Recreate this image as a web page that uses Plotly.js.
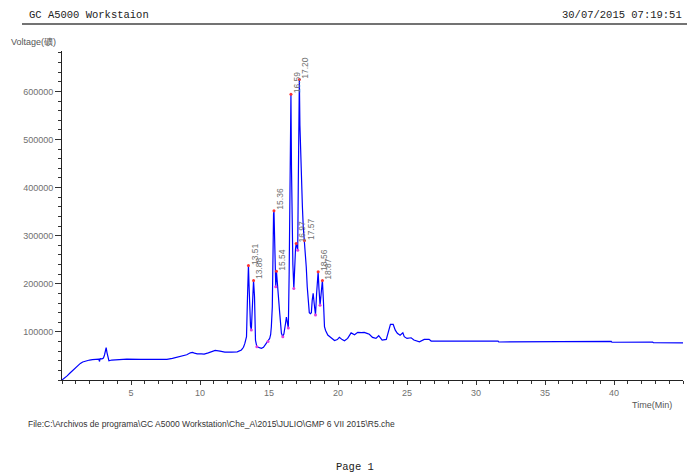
<!DOCTYPE html>
<html>
<head>
<meta charset="utf-8">
<script src="https://cdn.plot.ly/plotly-3.0.1.min.js"></script>
<style>
  html, body { margin: 0; padding: 0; background: #ffffff; }
  #chart { width: 687px; height: 474px; }
</style>
</head>
<body>
<div id="chart"></div>
<script>
// Chromatogram trace: retention time (min) and detector signal
const timeMin = [
  0.00, 0.15, 0.37, 0.60, 0.85, 1.10, 1.33, 1.50, 1.70, 2.00, 2.20, 2.50, 2.66, 2.72, 2.76, 2.90,
  3.00, 3.08, 3.15, 3.20, 3.26, 3.32, 3.40, 3.60, 4.00, 4.70, 5.70, 7.60, 8.00, 8.30, 8.70, 9.04,
  9.30, 9.45, 9.60, 9.80, 10.10, 10.30, 10.60, 10.90, 11.10, 11.45, 11.80, 12.30, 12.70, 13.00, 13.15, 13.25,
  13.37, 13.44, 13.49, 13.51, 13.55, 13.61, 13.66, 13.72, 13.80, 13.88, 13.95, 14.02, 14.12, 14.30, 14.45, 14.60,
  14.80, 14.93, 15.05, 15.12, 15.17, 15.24, 15.29, 15.33, 15.36, 15.41, 15.46, 15.49, 15.54, 15.60, 15.66, 15.72,
  15.78, 15.90, 16.00, 16.08, 16.14, 16.20, 16.26, 16.32, 16.40, 16.46, 16.51, 16.55, 16.59, 16.63, 16.68, 16.73,
  16.80, 16.86, 16.92, 16.97, 17.03, 17.08, 17.12, 17.14, 17.20, 17.24, 17.27, 17.31, 17.35, 17.42, 17.48, 17.57,
  17.63, 17.70, 17.77, 17.85, 17.92, 18.00, 18.07, 18.13, 18.20, 18.27, 18.37, 18.45, 18.56, 18.62, 18.70, 18.78,
  18.87, 18.95, 19.02, 19.10, 19.26, 19.50, 19.75, 19.95, 20.10, 20.30, 20.47, 20.70, 20.95, 21.20, 21.43, 21.70,
  21.90, 22.10, 22.27, 22.50, 22.75, 22.95, 23.20, 23.50, 23.67, 23.80, 24.00, 24.15, 24.30, 24.50, 24.70, 24.80,
  25.00, 25.30, 25.50, 25.75, 25.90, 26.25, 26.60, 26.75, 27.40, 27.50, 27.60, 29.20, 29.35, 29.70, 29.80, 31.60,
  31.65, 32.30, 32.35, 39.80, 39.85, 40.30, 40.35, 40.90, 40.95, 42.80, 42.85, 45.00
];
const signal = [
  0, 3000, 8500, 15000, 22000, 29000, 34500, 37500, 39500, 41500, 42200, 43000, 43500, 38500, 44500, 44000,
  45500, 52000, 66000, 67500, 57000, 45000, 40000, 41500, 42500, 43500, 43000, 43000, 45000, 47000, 50000, 52500,
  56500, 57500, 56000, 54500, 54500, 54000, 56500, 60500, 61600, 60200, 58100, 58000, 58500, 62500, 68000, 76000,
  90000, 170000, 233000, 238000, 200000, 138000, 112000, 104000, 173000, 207000, 173000, 83000, 69000, 67000, 65700, 68000,
  76000, 80000, 86500, 95000, 110600, 152000, 311000, 345000, 352000, 300000, 242000, 194000, 226000, 200000, 186700, 160000,
  138000, 97000, 90000, 96000, 103700, 118000, 131000, 118000, 108000, 220000, 380000, 450000, 594000, 440000, 330000, 240000,
  190000, 255000, 272000, 284000, 276000, 270000, 400000, 505000, 625000, 530000, 490000, 440000, 387000, 360000, 320000, 290000,
  270000, 235000, 194000, 152000, 140000, 138000, 140000, 165000, 180000, 160000, 135000, 180000, 225000, 190000, 155600, 180000,
  207000, 160000, 111000, 103000, 93400, 88000, 82000, 84000, 88600, 84000, 81500, 86500, 98000, 94000, 99000, 98500,
  99000, 97000, 95000, 88600, 86500, 92000, 83000, 84400, 103700, 115500, 115500, 103700, 97000, 93000, 98000, 90000,
  86500, 87800, 83000, 81000, 79500, 84400, 84400, 81000, 81000, 81800, 81000, 81000, 82400, 82400, 81000, 81000,
  79000, 79000, 80500, 80500, 78500, 78500, 80000, 80000, 79000, 79000, 77500, 77000
];

// Integrated peaks (apex retention times) and baseline-valley points
const peakTimes = [13.51, 13.88, 15.36, 15.54, 16.59, 16.97, 17.20, 17.57, 18.56, 18.87];
const valleyTimes = [13.72, 14.12, 14.93, 15.49, 16.00, 16.40, 16.80, 17.08, 18.37, 18.70];

// Axis ticks
const xTickVals = [5, 10, 15, 20, 25, 30, 35, 40];
const yTickVals = [100000, 200000, 300000, 400000, 500000, 600000];

// Page texts
const headerLeft = 'GC A5000 Workstaion';
const headerRight = '30/07/2015 07:19:51';
const yAxisLabel = 'Voltage(礦)';
const xAxisLabel = 'Time(Min)';
const fileLabel = 'File:C:\\Archivos de programa\\GC A5000 Workstation\\Che_A\\2015\\JULIO\\GMP 6 VII 2015\\R5.che';
const pageLabel = 'Page 1';

// look up the signal at a given retention time
function signalAt(t) {
  const i = timeMin.findIndex(v => Math.abs(v - t) < 1e-9);
  return signal[i];
}

// Plot-area geometry (pixels) used to place page texts in paper coordinates
const W = 687, H = 474;
const M = { l: 62, r: 4, t: 51, b: 94 };
const plotW = W - M.l - M.r, plotH = H - M.t - M.b;
const px = x => (x - M.l) / plotW;
const py = y => (H - M.b - y) / plotH;

const traceLine = {
  x: timeMin, y: signal, type: 'scatter', mode: 'lines',
  line: { color: '#0000ff', width: 1.2 },
  hoverinfo: 'skip', showlegend: false
};
const tracePeaks = {
  x: peakTimes, y: peakTimes.map(signalAt), type: 'scatter', mode: 'markers',
  marker: { color: '#ff3030', size: 3 }, hoverinfo: 'skip', showlegend: false
};
const traceValleys = {
  x: valleyTimes, y: valleyTimes.map(signalAt), type: 'scatter', mode: 'markers',
  marker: { color: '#e040e0', size: 3 }, hoverinfo: 'skip', showlegend: false
};

const labelFont = { family: 'Liberation Sans, Arial, sans-serif', size: 8.5, color: '#707070' };
const peakNotes = peakTimes.map(t => ({
  x: t, y: signalAt(t), xref: 'x', yref: 'y',
  text: t.toFixed(2), showarrow: false, textangle: -90,
  xanchor: 'center', yanchor: 'bottom', xshift: 6, yshift: -1,
  font: labelFont
}));

const monoFont = { family: 'Liberation Mono, Courier New, monospace', size: 10.5, color: '#222222' };
const sansFont = { family: 'Liberation Sans, Arial, sans-serif', size: 9, color: '#555555' };

const pageNotes = [
  { text: headerLeft, x: px(27), y: py(15), xanchor: 'left', yanchor: 'middle', font: monoFont },
  { text: headerRight, x: px(684), y: py(15), xanchor: 'right', yanchor: 'middle', font: monoFont },
  { text: yAxisLabel, x: px(9), y: py(42), xanchor: 'left', yanchor: 'middle', font: sansFont },
  { text: xAxisLabel, x: px(674), y: py(405), xanchor: 'right', yanchor: 'middle', font: sansFont },
  { text: fileLabel, x: px(26), y: py(424), xanchor: 'left', yanchor: 'middle',
    font: { family: 'Liberation Sans, Arial, sans-serif', size: 8.5, color: '#333333' } },
  { text: pageLabel, x: px(355), y: py(467), xanchor: 'center', yanchor: 'middle', font: monoFont }
].map(a => Object.assign({ xref: 'paper', yref: 'paper', showarrow: false }, a));

const layout = {
  width: W, height: H,
  margin: M,
  paper_bgcolor: '#ffffff', plot_bgcolor: '#ffffff',
  showlegend: false,
  xaxis: {
    range: [0, 45], showgrid: false, zeroline: false,
    showline: true, linecolor: '#222222', linewidth: 1,
    tickmode: 'array', tickvals: xTickVals,
    ticks: 'outside', ticklen: 4, tickcolor: '#333333',
    tickfont: { family: 'Liberation Sans, Arial, sans-serif', size: 9, color: '#707070' },
    minor: { tickmode: 'linear', tick0: 0, dtick: 1, ticks: 'outside', ticklen: 3, tickcolor: '#333333' }
  },
  yaxis: {
    range: [0, 684000], showgrid: false, zeroline: false,
    showline: true, linecolor: '#222222', linewidth: 1,
    tickmode: 'array', tickvals: yTickVals, tickformat: 'd',
    ticks: 'outside', ticklen: 6, tickcolor: '#333333',
    tickfont: { family: 'Liberation Sans, Arial, sans-serif', size: 9, color: '#707070' },
    minor: { tickmode: 'linear', tick0: 0, dtick: 20000, ticks: 'outside', ticklen: 3, tickcolor: '#333333' }
  },
  shapes: [
    { type: 'line', xref: 'paper', yref: 'paper', x0: px(22), x1: px(687), y0: py(24), y1: py(24),
      line: { color: '#444444', width: 1.5 } }
  ],
  annotations: peakNotes.concat(pageNotes)
};

Plotly.newPlot('chart', [traceLine, tracePeaks, traceValleys], layout, { staticPlot: true, displayModeBar: false });
</script>
</body>
</html>
